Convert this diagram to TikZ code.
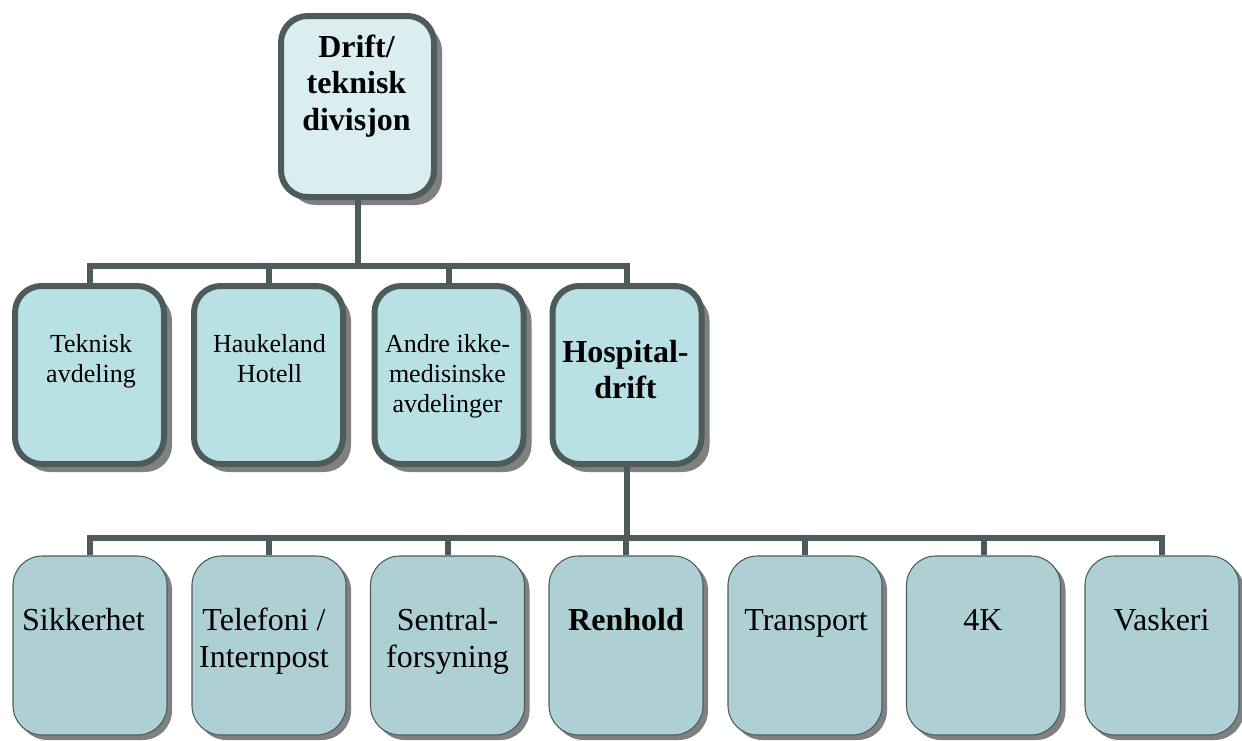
\documentclass[tikz,border=0pt]{standalone}
\usepackage{fontspec}
\setmainfont{Liberation Serif}
\begin{document}
\begin{tikzpicture}[x=0.75pt,y=-0.75pt,
  heavybox/.style={draw=boxedge,line width=4.5pt,rounded corners=20pt,inner sep=0pt},
  lightbox/.style={draw=boxedge,line width=0.8pt,rounded corners=22pt,fill=lowfill,inner sep=0pt},
  conn/.style={draw=boxedge,line width=4.5pt},
  shadowA/.style={fill=shadowgray,rounded corners=20pt},
  shadowB/.style={fill=shadowgray,rounded corners=22pt},
  lbl/.style={align=center,inner sep=0pt,text=black,anchor=north},
  toptxt/.style={lbl,font=\fontsize{24}{27.4}\selectfont\bfseries},
  midtxt/.style={lbl,font=\fontsize{19.5}{22.5}\selectfont},
  midbold/.style={lbl,font=\fontsize{24}{27}\selectfont\bfseries},
  lowtxt/.style={lbl,font=\fontsize{24}{27.75}\selectfont},
  lowbold/.style={lowtxt,font=\fontsize{24}{27.75}\selectfont\bfseries}]
\definecolor{boxedge}{HTML}{4D5B5B}
\definecolor{topfill}{HTML}{DAEEF1}
\definecolor{midfill}{HTML}{B9E0E4}
\definecolor{lowfill}{HTML}{AECFD3}
\definecolor{shadowgray}{HTML}{808080}
\useasboundingbox (0,0) rectangle (1242,740);

% ---------- top ----------
\fill[shadowA] (289,24) rectangle (442,205);
\node[heavybox,fill=topfill,minimum width=153*0.75pt,minimum height=181*0.75pt] (top) at (357.5,106.5) {};
\node[toptxt] (topt) at (356.5,31.4) {\strut Drift/\\teknisk\\divisjon};

% ---------- row 2 ----------
\foreach \cx/\nm in {89.5/a,268.5/b,449/c,627/d}{
  \fill[shadowA] (\cx-74.5+8,294) rectangle (\cx+74.5+8,472);
  \node[heavybox,fill=midfill,minimum width=149*0.75pt,minimum height=178*0.75pt] (\nm) at (\cx,375) {};
}
\node[midtxt] (at) at (91,331.5) {\strut Teknisk\\avdeling};
\node[midtxt] (bt) at (269.5,331.5) {\strut Haukeland\\Hotell};
\node[midtxt] (ct) at (447.5,331.5) {\strut Andre ikke-\\medisinske\\avdelinger};
\node[midbold] (dt) at (625.5,336.8) {\strut Hospital-\\drift};

% ---------- row 3 ----------
\foreach \cx/\nm in {90/s,269/t,447.5/u,626/v,805/w,983.5/x,1162/y}{
  \fill[shadowB] (\cx-77+5,561) rectangle (\cx+77+5,740);
  \node[lightbox,minimum width=154*0.75pt,minimum height=179*0.75pt] (\nm) at (\cx,645.5) {};
}
\node[lowtxt] (st) at (83.5,604.1) {\strut Sikkerhet};
\node[lowtxt] (tt) at (264,604.1) {\strut Telefoni /\\Internpost};
\node[lowtxt] (ut) at (447.5,604.1) {\strut Sentral-\\forsyning};
\node[lowbold] (vt) at (626,604.1) {\strut Renhold};
\node[lowtxt] (wt) at (806,604.1) {\strut Transport};
\node[lowtxt] (xt) at (983,604.1) {\strut 4K};
\node[lowtxt] (yt) at (1161.5,604.1) {\strut Vaskeri};

% ---------- connectors ----------
\coordinate (bus1) at (357.5,266);
\coordinate (bus2) at (627,538);
\draw[conn] (top.south) -- (bus1);
\foreach \nm in {a,b,c,d}{ \draw[conn] (\nm.north) |- (bus1); }
\draw[conn] (d.south) -- (bus2);
\foreach \nm in {s,t,u,v,w,x,y}{ \draw[conn] (\nm.north) |- (bus2); }
\end{tikzpicture}
\end{document}
